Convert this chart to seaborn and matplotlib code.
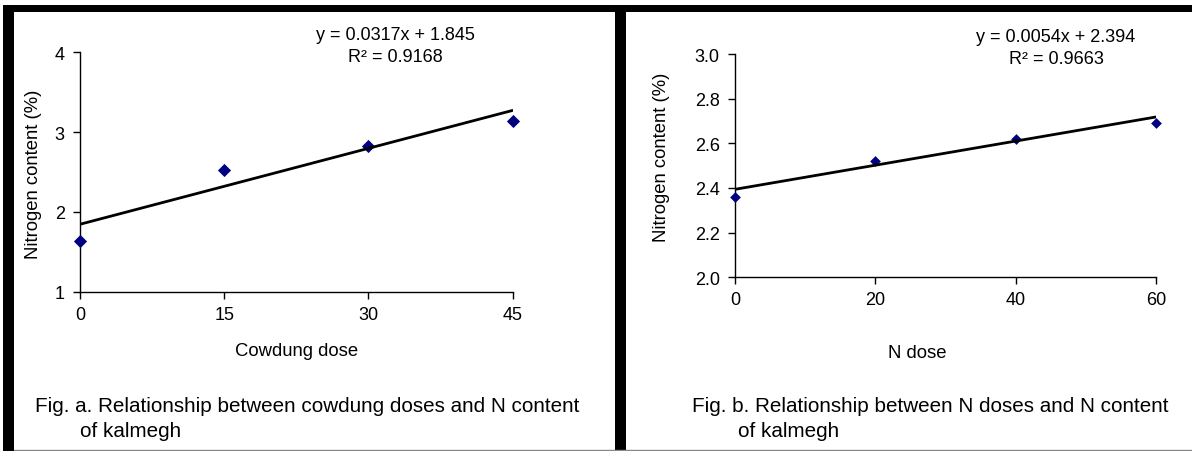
import numpy as np
import pandas as pd
import matplotlib
matplotlib.use("Agg")
import matplotlib.pyplot as plt
import seaborn as sns
from matplotlib.patches import Rectangle
from matplotlib.lines import Line2D

# ---- data ----
cow_dose = [0, 15, 30, 45]
cow_n = [1.64, 2.53, 2.82, 3.14]
cow_slope, cow_intercept, cow_r2 = 0.0317, 1.845, 0.9168
cow_yticks = [1, 2, 3, 4]

n_dose = [0, 20, 40, 60]
n_n = [2.36, 2.52, 2.62, 2.69]
n_slope, n_intercept, n_r2 = 0.0054, 2.394, 0.9663
n_yticks = [2.0, 2.2, 2.4, 2.6, 2.8, 3.0]

eq_a = "y = 0.0317x + 1.845"
r2_a = "R² = 0.9168"
eq_b = "y = 0.0054x + 2.394"
r2_b = "R² = 0.9663"
xlabel_a = "Cowdung dose"
xlabel_b = "N dose"
ylabel = "Nitrogen content (%)"
cap_a1 = "Fig. a. Relationship between cowdung doses and N content"
cap_a2 = "of kalmegh"
cap_b1 = "Fig. b. Relationship between N doses and N content"
cap_b2 = "of kalmegh"

sns.set_theme(style="ticks")
plt.rcParams['font.family'] = ['Liberation Sans', 'DejaVu Sans']
plt.rcParams['axes.edgecolor'] = 'black'
plt.rcParams['xtick.color'] = 'black'
plt.rcParams['ytick.color'] = 'black'
plt.rcParams['text.color'] = 'black'

W, H = 1192, 452
fig = plt.figure(figsize=(W / 100, H / 100), dpi=100)
fig.patch.set_facecolor('white')

def fx(x):
    return x / W

def fy(y):
    return 1 - y / H

def box(x0, y0, x1, y1):
    return [fx(x0), fy(y1), fx(x1) - fx(x0), fy(y0) - fy(y1)]

# frame
for (x0, y0, x1, y1) in [(3, 6, 1192, 13), (3, 6, 14, 452), (615, 6, 626, 452)]:
    fig.add_artist(Rectangle((fx(x0), fy(y1)), fx(x1) - fx(x0), fy(y0) - fy(y1),
                             transform=fig.transFigure, color='black', lw=0))
fig.add_artist(Line2D([fx(14), fx(1192)], [fy(450.5), fy(450.5)], transform=fig.transFigure,
                      color='#888888', lw=1))

ax1 = fig.add_axes(box(80, 53.3, 512.5, 292.7))
ax2 = fig.add_axes(box(735, 55, 1156, 278.3))

def draw(ax, xs, ys, slope, intercept, xticks, yticks, yfmt, msize):
    df = pd.DataFrame({"x": xs, "y": ys})
    xl = np.array([min(xs), max(xs)], dtype=float)
    sns.scatterplot(data=df, x="x", y="y", ax=ax, marker="D", color="#000080",
                    s=msize, edgecolor="#000080", linewidth=0, clip_on=False, zorder=3)
    sns.lineplot(x=xl, y=slope * xl + intercept, ax=ax, color="black", lw=2, zorder=4)
    ax.set_xlim(xticks[0], xticks[-1])
    ax.set_ylim(yticks[0], yticks[-1])
    ax.set_xticks(xticks)
    ax.set_yticks(yticks)
    ax.set_yticklabels([yfmt.format(v) for v in yticks])
    ax.set_xlabel("")
    ax.set_ylabel("")
    sns.despine(ax=ax)
    for s in ["left", "bottom"]:
        ax.spines[s].set_linewidth(1.0)
    ax.tick_params(axis='both', length=5, width=1, labelsize=13)
    ax.tick_params(axis='y', pad=6)
    ax.tick_params(axis='x', pad=5)
    ax.set_facecolor('white')

draw(ax1, cow_dose, cow_n, cow_slope, cow_intercept, cow_dose, cow_yticks, "{:.0f}", 45)
draw(ax2, n_dose, n_n, n_slope, n_intercept, n_dose, n_yticks, "{:.1f}", 30)

# texts
fs_eq = 13
fig.text(fx(395), fy(36), eq_a, ha='center', va='center', fontsize=fs_eq)
fig.text(fx(395), fy(58), r2_a, ha='center', va='center', fontsize=fs_eq)
fig.text(fx(1056), fy(38), eq_b, ha='center', va='center', fontsize=fs_eq)
fig.text(fx(1056), fy(59), r2_b, ha='center', va='center', fontsize=fs_eq)

fs_lab = 13.3
fig.text(fx(34), fy(174), ylabel, ha='center', va='center', rotation=90, fontsize=fs_lab)
fig.text(fx(662), fy(157), ylabel, ha='center', va='center', rotation=90, fontsize=fs_lab)

fig.text(fx(297), fy(352), xlabel_a, ha='center', va='center', fontsize=fs_lab)
fig.text(fx(917), fy(353), xlabel_b, ha='center', va='center', fontsize=fs_lab)

fs_cap = 14.9
fig.text(fx(35), fy(407), cap_a1, ha='left', va='center', fontsize=fs_cap)
fig.text(fx(80), fy(432), cap_a2, ha='left', va='center', fontsize=fs_cap)
fig.text(fx(692), fy(407), cap_b1, ha='left', va='center', fontsize=fs_cap)
fig.text(fx(738), fy(432), cap_b2, ha='left', va='center', fontsize=fs_cap)

fig.savefig("out.png", dpi=100, facecolor='white')
